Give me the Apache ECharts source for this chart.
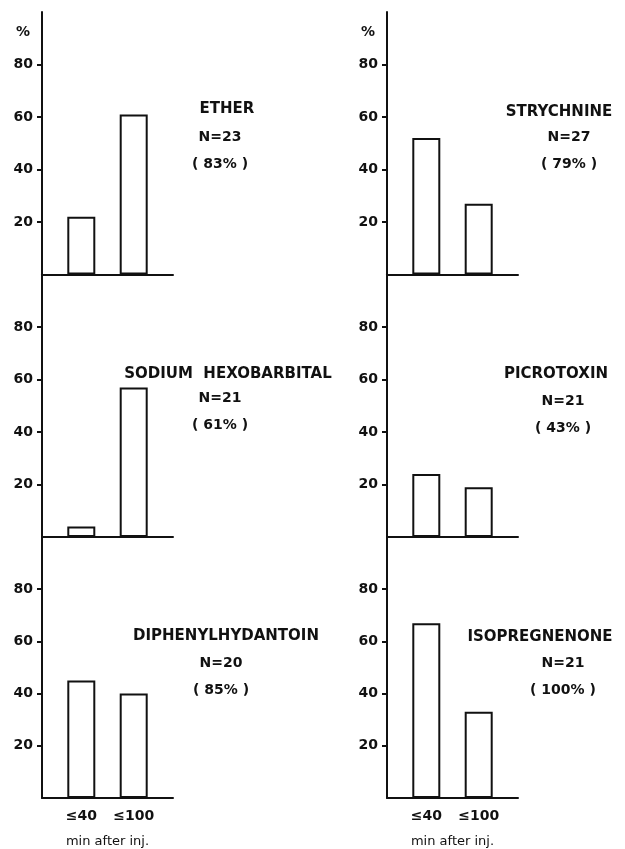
<!DOCTYPE html>
<html>
<head>
<meta charset="utf-8">
<script src="https://cdn.jsdelivr.net/npm/echarts@6/dist/echarts.min.js"></script>
<style>
  html, body { margin: 0; padding: 0; background: #fff; }
  #main { width: 625px; height: 849px; }
</style>
</head>
<body>
<div id="main"></div>
<script>
// data (% of animals, per time window)
var drugs = ['ETHER', 'STRYCHNINE', 'SODIUM  HEXOBARBITAL', 'PICROTOXIN', 'DIPHENYLHYDANTOIN', 'ISOPREGNENONE']
var nValues = [23, 27, 21, 21, 20, 21]
var totals = [83, 79, 61, 43, 85, 100]
var within40 = [22, 52, 4, 24, 45, 67]
var within100 = [61, 27, 57, 19, 40, 33]
var timeLabels = ['≤40', '≤100']
var yTicks = [20, 40, 60, 80]

var font = 'DejaVu Sans'
var ink = '#111'

// panel layout
var colLeft = [42, 387]
var rowTop = [12, 274.5, 537]
var rowHeight = [262.5, 262.5, 261]
// text anchors: [name x, name y, stats x, stats y]
var textPos = [
    [227, 109, 220, 137],
    [559, 112, 569, 137],
    [228, 374, 220, 398],
    [556, 374, 563, 401],
    [226, 636, 221, 663],
    [540, 637, 563, 663]
]

var grids = [], xAxes = [], yAxes = [], series = [], titles = []
for (var i = 0; i < drugs.length; i++) {
    var col = i % 2
    var row = Math.floor(i / 2)
    var bottomRow = row === 2
    grids.push({ left: colLeft[col], top: rowTop[row], width: 131, height: rowHeight[row] })
    xAxes.push({
        type: 'value', gridIndex: i, min: 0.25, max: 2.75,
        axisLine: { show: true, onZero: false, lineStyle: { color: ink, width: 2 } },
        axisTick: { show: false },
        splitLine: { show: false },
        axisLabel: {
            show: bottomRow, customValues: [1, 2], margin: 11,
            formatter: function (v) { return timeLabels[Math.round(v) - 1] },
            color: ink, fontFamily: font, fontWeight: 'bold', fontSize: 14
        },
        name: bottomRow ? 'min after inj.' : '',
        nameLocation: 'middle', nameGap: 37,
        nameTextStyle: { color: ink, fontFamily: font, fontSize: 13 }
    })
    yAxes.push({
        type: 'value', gridIndex: i, min: 0, max: 100,
        axisLine: { show: true, lineStyle: { color: ink, width: 2 } },
        axisTick: { show: true, length: 5, customValues: yTicks, lineStyle: { color: ink, width: 2 } },
        splitLine: { show: false },
        axisLabel: {
            customValues: yTicks, margin: 9,
            color: ink, fontFamily: font, fontWeight: 'bold', fontSize: 14
        },
        name: row === 0 ? '%' : '',
        nameLocation: 'end', nameGap: -20,
        nameTextStyle: {
            align: 'right', verticalAlign: 'middle', padding: [0, 12, 0, 0],
            color: ink, fontFamily: font, fontWeight: 'bold', fontSize: 14
        }
    })
    series.push({
        type: 'bar', xAxisIndex: i, yAxisIndex: i, barWidth: 28,
        data: [[1, within40[i]], [2, within100[i]]],
        itemStyle: { color: '#fff', borderColor: ink, borderWidth: 2 },
        silent: true
    })
    var p = textPos[i]
    var nameStyle = { color: ink, fontFamily: font, fontWeight: 'bold', fontSize: 15, lineHeight: 27 }
    var statStyle = { color: ink, fontFamily: font, fontWeight: 'bold', fontSize: 14, lineHeight: 27 }
    titles.push({ text: drugs[i], left: p[0], top: p[1] - 13.5, textAlign: 'center', padding: 0, textStyle: nameStyle })
    titles.push({
        text: 'N=' + nValues[i] + '\n( ' + totals[i] + '% )',
        left: p[2], top: p[3] - 13.5, textAlign: 'center', padding: 0, textStyle: statStyle
    })
}

var myChart = echarts.init(document.getElementById('main'))
myChart.setOption({
    backgroundColor: '#fff',
    animation: false,
    title: titles,
    grid: grids,
    xAxis: xAxes,
    yAxis: yAxes,
    series: series
})
</script>
</body>
</html>
